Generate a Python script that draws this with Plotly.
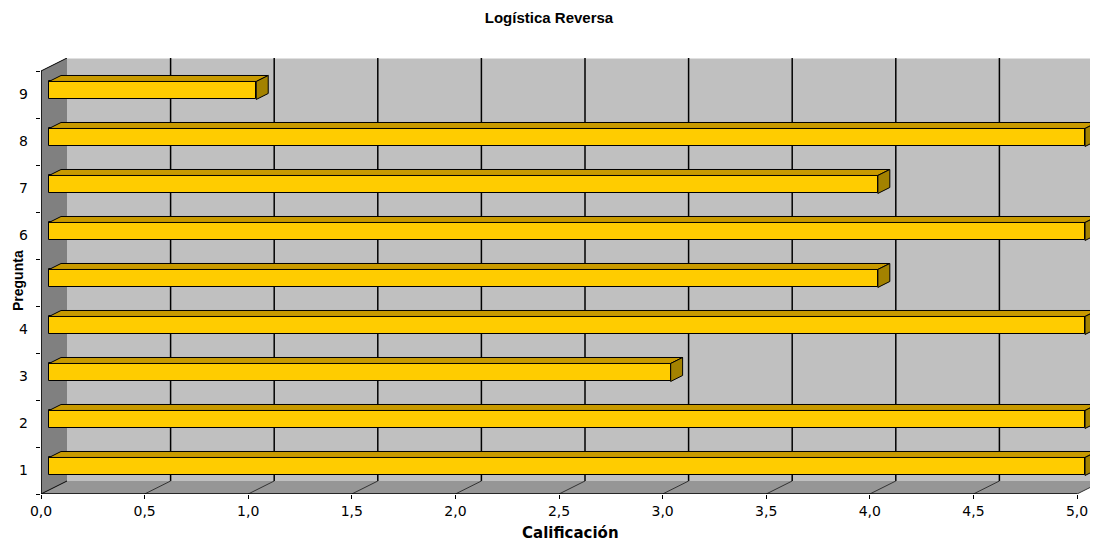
import plotly.graph_objects as go

# ---- data ----
preguntas = [1, 2, 3, 4, 5, 6, 7, 8, 9]
pregunta_labels = ["1", "2", "3", "4", "5", "6", "7", "8", "9"]
calificacion = [5, 5, 3, 5, 4, 5, 4, 5, 1]
x_ticks = [0, 0.5, 1.0, 1.5, 2.0, 2.5, 3.0, 3.5, 4.0, 4.5, 5.0]

# ---- 3D-look geometry (styling) ----
OFF = 8                       # default page body margin
W, H = 1098 - OFF, 545 - OFF
ML, MR, MT, MB = 41 - OFF, 0, 58 - OFF, 51
PW, PH = W - ML - MR, H - MT - MB
PX_X = 207.2          # pixels per x unit
PX_Y = 47.0           # pixels per category
DX = 26 / PX_X        # depth offset in x units
DY = 13 / PX_Y        # depth offset in y units
XMAX = PW / PX_X
YMIN, YMAX = 0.5, 9.5 + DY
T_FRONT = 0.31        # bar front plane depth fraction
T_DEPTH = 0.46        # bar depth fraction
BAR_W = 18 / PX_Y

FACE = "#FFCC00"
TOP = "#C89A00"
SIDE = "#A38200"

shapes = []
# back wall
shapes.append(dict(type="rect", xref="x", yref="y", layer="below",
                   x0=DX, x1=5 + DX, y0=0.5 + DY, y1=9.5 + DY,
                   fillcolor="#C0C0C0", line=dict(width=0)))
shapes.append(dict(type="line", xref="x", yref="y", layer="below",
                   x0=DX, x1=5 + DX, y0=9.5 + DY, y1=9.5 + DY,
                   line=dict(color="#E0E0E0", width=2)))
# side wall
shapes.append(dict(type="path", xref="x", yref="y", layer="below",
                   path=f"M 0 0.5 L 0 9.5 L {DX} {9.5+DY} L {DX} {0.5+DY} Z",
                   fillcolor="#808080", line=dict(width=0)))
# floor
shapes.append(dict(type="path", xref="x", yref="y", layer="below",
                   path=f"M 0 0.5 L 5 0.5 L {5+DX} {0.5+DY} L {DX} {0.5+DY} Z",
                   fillcolor="#969696", line=dict(width=0)))
# gridlines on back wall and floor
for v in x_ticks[1:]:
    shapes.append(dict(type="line", xref="x", yref="y", layer="below",
                       x0=v + DX, x1=v + DX, y0=0.5 + DY, y1=9.5 + DY,
                       line=dict(color="#000000", width=1.5)))
    shapes.append(dict(type="line", xref="x", yref="y", layer="below",
                       x0=v, x1=v + DX, y0=0.5, y1=0.5 + DY,
                       line=dict(color="#333333", width=1)))
# edges
shapes.append(dict(type="line", xref="x", yref="y", layer="below",
                   x0=0, x1=0, y0=0.5, y1=9.5, line=dict(color="#000000", width=1.5)))
shapes.append(dict(type="line", xref="x", yref="y", layer="below",
                   x0=0, x1=DX, y0=9.5, y1=9.5 + DY, line=dict(color="#000000", width=1)))
shapes.append(dict(type="line", xref="x", yref="y", layer="below",
                   x0=0, x1=DX, y0=0.5, y1=0.5 + DY, line=dict(color="#000000", width=1)))
shapes.append(dict(type="line", xref="x", yref="y", layer="below",
                   x0=0, x1=5, y0=0.5, y1=0.5, line=dict(color="#000000", width=1.5)))

# ---- bars ----
x0 = T_FRONT * DX
y_shift = T_FRONT * DY
ddx = T_DEPTH * DX
ddy = T_DEPTH * DY
bar_y = [p + y_shift for p in preguntas]

fig = go.Figure()

top_x, top_y, side_x, side_y = [], [], [], []
for yc, v in zip(bar_y, calificacion):
    yt = yc + BAR_W / 2
    yb = yc - BAR_W / 2
    x1 = x0 + v
    top_x += [x0, x1, x1 + ddx, x0 + ddx, x0, None]
    top_y += [yt, yt, yt + ddy, yt + ddy, yt, None]
    side_x += [x1, x1 + ddx, x1 + ddx, x1, x1, None]
    side_y += [yb, yb + ddy, yt + ddy, yt, yb, None]

fig.add_trace(go.Scatter(x=top_x, y=top_y, mode="lines", fill="toself",
                         fillcolor=TOP, line=dict(color="#000000", width=1),
                         hoverinfo="skip", showlegend=False))
fig.add_trace(go.Scatter(x=side_x, y=side_y, mode="lines", fill="toself",
                         fillcolor=SIDE, line=dict(color="#000000", width=1),
                         hoverinfo="skip", showlegend=False))
fig.add_trace(go.Bar(orientation="h", y=bar_y, x=calificacion, base=x0,
                     width=BAR_W, marker=dict(color=FACE, line=dict(color="#000000", width=1)),
                     showlegend=False))

fig.update_layout(
    width=W, height=H,
    margin=dict(l=ML, r=MR, t=MT, b=MB, autoexpand=False),
    paper_bgcolor="white", plot_bgcolor="white",
    separators=",.",
    font=dict(family="DejaVu Sans", size=14, color="#000000"),
    title=dict(text="<b>Logística Reversa</b>", x=(549 - OFF) / W, xref="container",
               y=1 - (18 - OFF) / H, yref="container", yanchor="middle",
               font=dict(family="Liberation Sans", size=15, color="#000000")),
    shapes=shapes,
    bargap=0,
    xaxis=dict(range=[0, XMAX], tickvals=x_ticks, tickformat=".1f",
               automargin=False,
               showgrid=False, zeroline=False, showline=False,
               ticks="outside", ticklen=4, tickcolor="#000000",
               tickfont=dict(family="DejaVu Sans", size=14)),
    yaxis=dict(range=[YMIN, YMAX], tickvals=preguntas, ticktext=pregunta_labels,
               automargin=False,
               showgrid=False, zeroline=False, showline=False,
               ticks="", ticklabelstandoff=12,
               minor=dict(tick0=0.5, dtick=1, ticks="outside", ticklen=4,
                          tickcolor="#000000", showgrid=False),
               tickfont=dict(family="DejaVu Sans", size=14)),
    annotations=[
        dict(text="<b>Calificación</b>", xref="paper", yref="paper",
             x=(570 - 41) / PW, y=-(533 - 494) / PH, xanchor="center", yanchor="middle",
             showarrow=False, font=dict(family="DejaVu Sans", size=15)),
        dict(text="<b>Pregunta</b>", xref="paper", yref="paper",
             x=(18 - 41) / PW, y=(494 - 281) / PH, textangle=-90,
             xanchor="center", yanchor="middle", bgcolor="white",
             showarrow=False, font=dict(family="Liberation Sans Narrow, Liberation Sans", size=14)),
    ],
)

fig.write_html("out.html")
